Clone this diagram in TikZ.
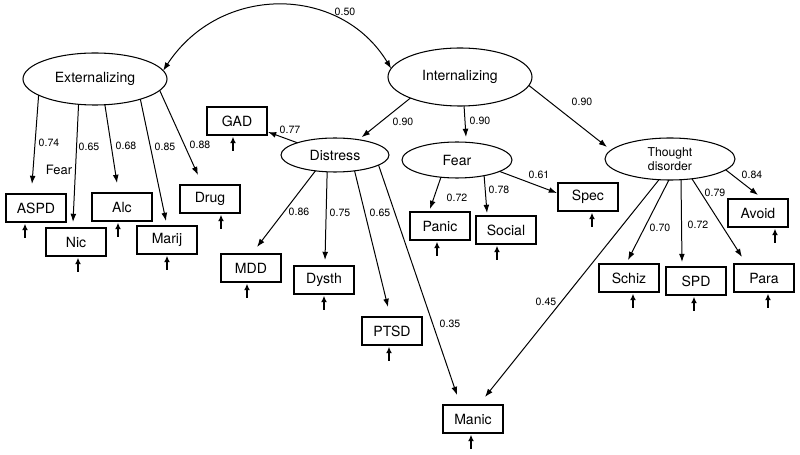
\documentclass[tikz,border=0pt]{standalone}
\usepackage{fontspec}
\setmainfont{TeX Gyre Heros}
\usetikzlibrary{shapes.geometric,arrows.meta}

\begin{document}
\begin{tikzpicture}[x=0.03cm, y=-0.03cm, >={Latex[length=7pt,width=5pt]},
    latent/.style={ellipse, draw, line width=0.9pt, inner sep=0pt, outer sep=0pt, font=\fontsize{12}{14}\selectfont},
    box/.style={draw, line width=1pt, minimum width=1.8cm, minimum height=0.84cm, inner sep=0pt, outer sep=0pt, font=\fontsize{12}{14}\selectfont},
    load/.style={->, line width=0.85pt},
    err/.style={-{Latex[length=5.5pt,width=5pt]}, line width=1pt, shorten >=1.5pt},
    lbl/.style={font=\fontsize{9}{10}\selectfont, inner sep=0pt}]
  \useasboundingbox (0,0) rectangle (800,455);

  % latent factors
  \node[latent, minimum width=4.32cm, minimum height=1.56cm] (ext) at (95,79) {Externalizing};
  \node[latent, minimum width=4.32cm, minimum height=1.74cm] (int) at (460,77) {Internalizing};
  \node[latent, minimum width=3.24cm, minimum height=1.02cm] (dis) at (335,155) {Distress};
  \node[latent, minimum width=3.3cm, minimum height=1.08cm] (fear) at (457,160) {Fear};
  \node[latent, minimum width=3.9cm, minimum height=1.26cm, align=center,
        font=\fontsize{10.4}{11.5}\selectfont] (thought) at (670,159) {Thought\\disorder};
  \node[inner sep=0pt, font=\fontsize{11}{13}\selectfont] (fearlbl) at (59,170) {Fear};

  % observed disorders
  \foreach \nm/\x/\y/\txt in {aspd/36/208/ASPD, nic/76/242/Nic, alc/122/207/Alc,
      marij/167/240/Marij, drug/210/199/Drug, gad/237/121/GAD, mdd/251/268/MDD,
      dysth/324/280/Dysth, ptsd/392/331/PTSD, panic/440/226/Panic, social/506/230/Social,
      spec/588/197/Spec, avoid/758/213/Avoid, schiz/629/278/Schiz, spd/696/281/SPD,
      para/764/278/Para, manic/473/419/Manic}
    \node[box] (\nm) at (\x,\y) {\txt};

  % residual arrows
  \foreach \nm/\dx in {aspd/-11, nic/2, alc/-4, marij/0, drug/11, gad/-4, mdd/-4,
      dysth/0, ptsd/-3, panic/-3, social/-9, spec/4, avoid/17, schiz/4, spd/-2,
      para/4, manic/-2}{
    \coordinate (e\nm) at ([shift={(\dx,16)}]\nm.south);
    \draw[err] (e\nm) -- (e\nm |- \nm.south);
  }

  % loadings
  \foreach \src/\ang/\tgt/\anc/\dx/\dy/\val/\lx/\ly in {
      ext/196/aspd/north/-4/-10/0.74/49/143,
      ext/237/nic/north/-3/-6/0.65/89/147,
      ext/291/alc/north/-5/-10/0.68/126/146,
      ext/336/marij/north/-1/-5/0.85/165/147,
      ext/350/drug/north/-12/-10/0.88/200/145,
      int/203/dis/29/0/-3/0.90/403/122,
      int/278/fear/north/9/-5/0.90/480/121,
      int/353/thought/west/2/-12/0.90/582/102,
      dis/162/gad/south east/1/-3/0.77/290/130,
      dis/219/mdd/north/6/-7/0.86/299/212,
      dis/245/dysth/north/1/-6/0.75/340/213,
      dis/321/ptsd/north/-4/-10/0.65/380/213,
      dis/347/manic/north/-16/-10/0.35/450/324,
      fear/227/panic/north/-10/-3/0.72/457/198,
      fear/330/social/north/-19/-3/0.78/499/190,
      fear/345/spec/west/-1/-4/0.61/539/175,
      thought/349/avoid/north/0/-4/0.84/752/175,
      thought/318/para/north/-22/-7/0.79/715/193,
      thought/298/spd/north/-14/-5/0.72/698/225,
      thought/267/schiz/north/-1/-4/0.70/660/228,
      thought/242/manic/north/12/-8/0.45/546/302}{
    \draw[load] (\src.\ang) -- ([shift={(\dx,\dy)}]\tgt.\anc);
    \node[lbl] (v-\src-\tgt) at (\lx,\ly) {\val};
  }

  % correlation
  \draw[<->, line width=0.85pt] (ext.7) .. controls +(57,-87) and +(-51,-84) .. (int.173);
  \node[lbl] (v-ext-int) at (345,12) {0.50};
\end{tikzpicture}
\end{document}
